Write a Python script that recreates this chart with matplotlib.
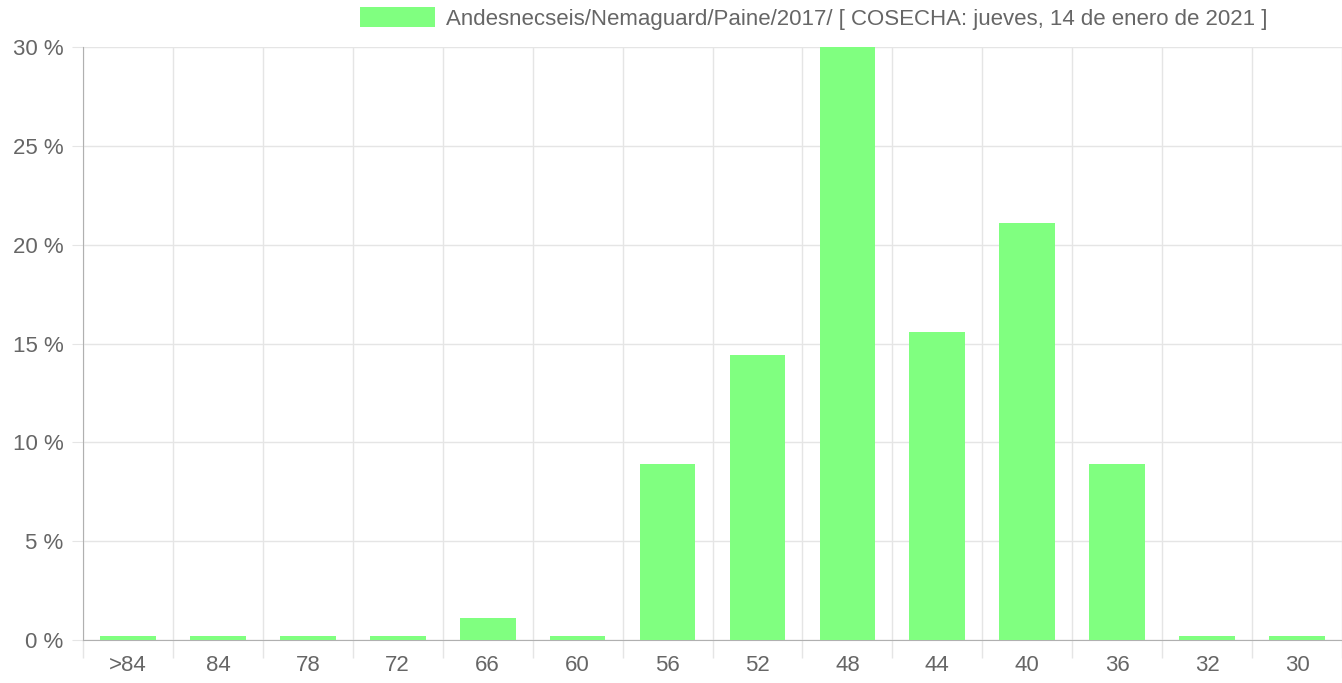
import matplotlib

matplotlib.use("Agg")
import matplotlib.pyplot as plt
import numpy as np
from matplotlib.ticker import FixedLocator, FuncFormatter

# calibres and share of fruit (%)
calibres = [">84", "84", "78", "72", "66", "60", "56", "52", "48", "44", "40", "36", "32", "30"]
porcentaje = [0.2, 0.2, 0.2, 0.2, 1.1, 0.2, 8.9, 14.4, 30.0, 15.6, 21.1, 8.9, 0.2, 0.2]
serie = "Andesnecseis/Nemaguard/Paine/2017/ [ COSECHA: jueves, 14 de enero de 2021 ]"

plt.rcParams["font.family"] = ["Liberation Sans", "DejaVu Sans"]
gris = "#666666"

fig = plt.figure(figsize=(13.42, 6.83), dpi=100)
ax = fig.add_axes([83 / 1342, 43 / 683, 1 - 83 / 1342, 593 / 683])

x = np.arange(len(calibres))
ax.bar(x, porcentaje, width=0.62, color="#80ff80", label=serie, zorder=3)

ax.set_xlim(-0.5, len(calibres) - 0.5)
ax.set_ylim(0, 30)
ax.set_yticks(np.arange(0, 31, 5))
ax.yaxis.set_major_formatter(FuncFormatter(lambda v, p: "%d %%" % v))
ax.set_xticks(x)
ax.set_xticklabels(calibres)
ax.xaxis.set_minor_locator(FixedLocator(np.arange(-0.5, len(calibres), 1)))

ax.grid(axis="y", color="#e5e5e5", linewidth=1, zorder=0)
ax.grid(axis="x", which="minor", color="#e5e5e5", linewidth=1, zorder=0)
ax.tick_params(axis="x", which="major", length=0, pad=11, labelsize=16, labelcolor=gris)
ax.tick_params(axis="x", which="minor", length=13, color="#e5e5e5", width=1)
ax.tick_params(axis="y", length=8, color="#e5e5e5", pad=6, labelsize=16, labelcolor=gris)

for s in ["top", "right"]:
    ax.spines[s].set_visible(False)
ax.spines["left"].set_color("#b0b0b0")
ax.spines["bottom"].set_color("#b0b0b0")

fig.legend(loc="upper left", bbox_to_anchor=(344 / 1342, 1.012), frameon=False,
           fontsize=16, labelcolor=gris, handlelength=3.4, handleheight=0.95,
           handletextpad=0.5, borderaxespad=0.3)

plt.savefig("out.png", dpi=100)
